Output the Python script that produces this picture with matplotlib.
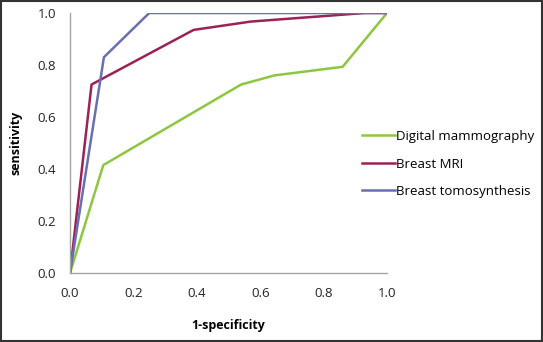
import matplotlib
matplotlib.use('Agg')
import matplotlib.pyplot as plt
from matplotlib.lines import Line2D

# ROC points
dm_x = [0.0, 0.105, 0.54, 0.645, 0.86, 1.0]
dm_y = [0.0, 0.415, 0.725, 0.76, 0.793, 1.0]
mri_x = [0.0, 0.068, 0.39, 0.57, 0.93, 1.0]
mri_y = [0.0, 0.725, 0.935, 0.967, 1.0, 1.0]
tomo_x = [0.0, 0.107, 0.25, 1.0]
tomo_y = [0.0, 0.83, 1.0, 1.0]

labels = ["Digital mammography", "Breast MRI", "Breast tomosynthesis"]
colors = ["#8DC63F", "#9B2257", "#6770B0"]
ticks = [0.0, 0.2, 0.4, 0.6, 0.8, 1.0]

plt.rcParams['font.family'] = ['Open Sans', 'DejaVu Sans']

fig = plt.figure(figsize=(5.43, 3.42), dpi=100)
ax = fig.add_axes([70 / 543, 69 / 342, 317 / 543, 260 / 342])

ax.plot(dm_x, dm_y, color=colors[0], lw=1.8)
ax.plot(mri_x, mri_y, color=colors[1], lw=1.8)
ax.plot(tomo_x, tomo_y, color=colors[2], lw=1.8)

ax.set_xlim(0, 1)
ax.set_ylim(0, 1)
ax.set_xticks(ticks)
ax.set_yticks(ticks)
ax.set_xticklabels([f"{t:.1f}" for t in ticks])
ax.set_yticklabels([f"{t:.1f}" for t in ticks])
ax.tick_params(length=0, labelsize=9.5, pad=10, colors="#222222")
for s in ["top", "right"]:
    ax.spines[s].set_visible(False)
for s in ["left", "bottom"]:
    ax.spines[s].set_color("#A6A6A6")
    ax.spines[s].set_linewidth(1)

ax.set_xlabel("1-specificity", fontsize=9, fontweight="bold", labelpad=14)
ax.set_ylabel("sensitivity", fontsize=9, fontweight="bold", labelpad=11)

handles = [Line2D([], [], color=c, lw=1.8) for c in colors]
fig.legend(handles, labels, loc="center left", bbox_to_anchor=(350 / 543, 1 - 164 / 342),
           frameon=False, fontsize=9.5, handlelength=2.5, handletextpad=0.1,
           labelspacing=1.1)

# dark frame around the whole image
fig.patches.append(plt.Rectangle((0.002, 0.003), 0.996, 0.994, transform=fig.transFigure,
                                 fill=False, edgecolor="#333333", lw=1.5))

fig.savefig("out.png", dpi=100)
